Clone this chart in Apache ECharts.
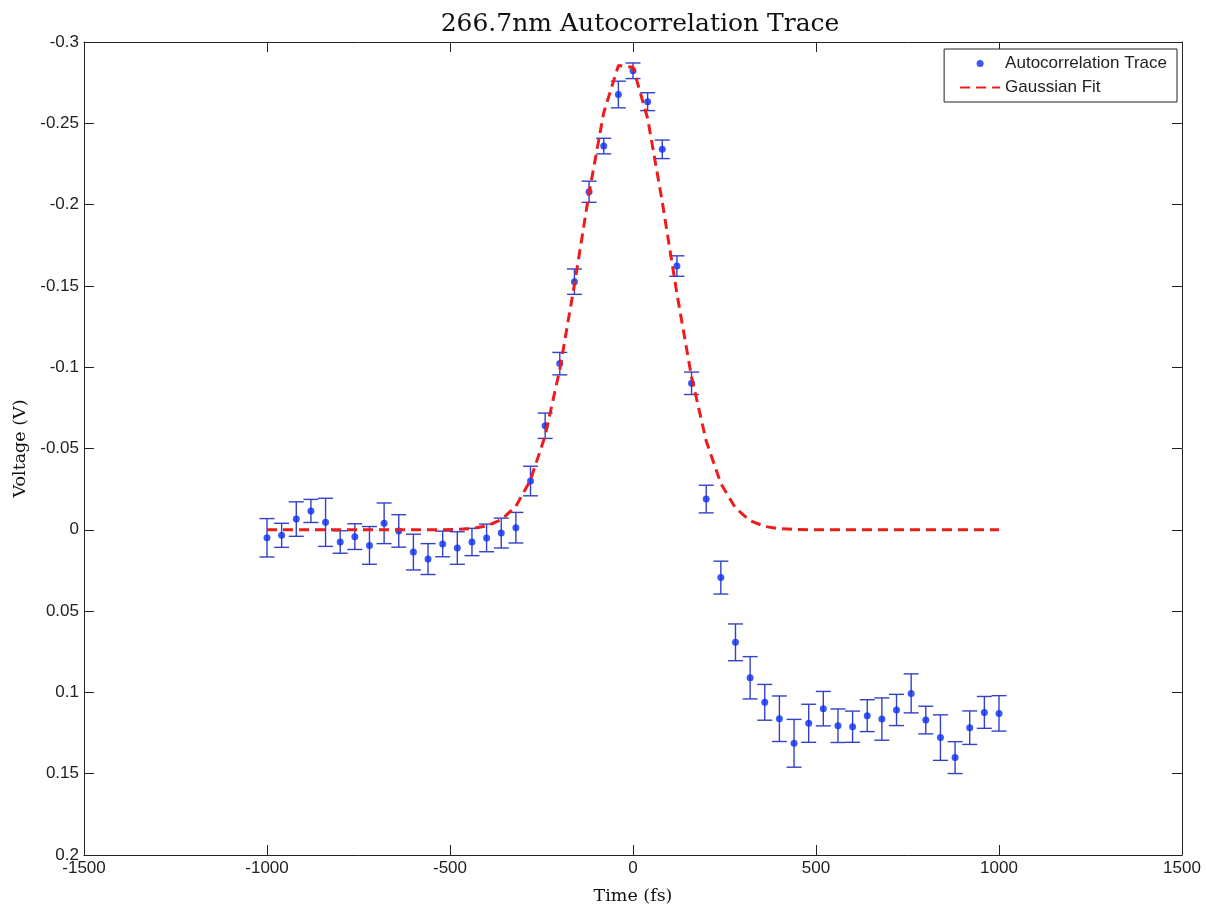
<!DOCTYPE html>
<html>
<head>
<meta charset="utf-8">
<script src="https://cdn.jsdelivr.net/npm/echarts@6/dist/echarts.min.js"></script>
<style>
html,body{margin:0;padding:0;background:#fff;}
#chart{width:1206px;height:904px;}
</style>
</head>
<body>
<div id="chart"></div>
<script>
// ---- data ----
const timeFs = [-1000,-960,-920,-880,-840,-800,-760,-720,-680,-640,-600,-560,-520,-480,-440,-400,-360,-320,
  -280,-240,-200,-160,-120,-80,-40,0,40,80,120,160,200,
  240,280,320,360,400,440,480,520,560,600,640,680,720,760,800,840,880,920,960,1000];
const voltage = [0.0049,0.0034,-0.0066,-0.0116,-0.0046,0.0075,0.0042,0.0096,-0.0040,0.0007,0.0137,0.0180,0.0087,0.0112,0.0075,0.0050,0.0020,-0.0013,
  -0.0300,-0.0640,-0.1022,-0.1526,-0.2079,-0.2360,-0.2677,-0.2823,-0.2633,-0.2340,-0.1622,-0.0901,-0.0189,
  0.0294,0.0692,0.0910,0.1061,0.1162,0.1313,0.1190,0.1100,0.1205,0.1211,0.1143,0.1164,0.1108,0.1006,0.1170,0.1278,0.1401,0.1217,0.1123,0.1129];
const errorHalf = [0.0118,0.0074,0.0106,0.0071,0.0148,0.0069,0.0079,0.0116,0.0125,0.0100,0.0110,0.0095,0.0079,0.0100,0.0084,0.0085,0.0092,0.0094,
  0.0091,0.0078,0.0069,0.0078,0.0065,0.0048,0.0082,0.0048,0.0055,0.0057,0.0063,0.0069,0.0085,
  0.0101,0.0113,0.0130,0.0110,0.0140,0.0147,0.0117,0.0106,0.0103,0.0096,0.0098,0.0130,0.0096,0.0120,0.0085,0.0140,0.0098,0.0103,0.0098,0.0109];
const gaussianFit = [0,0,0,0,0,0,0,0,0,0,0,0,0,-0.0002,-0.0008,
  -0.0024,-0.0062,-0.0145,-0.0306,-0.0579,-0.0987,-0.1508,-0.2071,-0.2565,-0.2855,-0.2845,-0.2530,-0.2016,-0.1453,-0.0940,-0.0546,
  -0.0285,-0.0134,-0.0056,-0.0021,-0.0007,-0.0002,0,0,0,0,0,0,0,0,0,0,0,0,0,0];
const xTicks = [-1500,-1000,-500,0,500,1000,1500];
const yTicks = [-0.3,-0.25,-0.2,-0.15,-0.1,-0.05,0,0.05,0.1,0.15,0.2];

const titleText = '266.7nm Autocorrelation Trace';
const xName = 'Time (fs)';
const yName = 'Voltage (V)';
const traceName = 'Autocorrelation Trace';
const fitName = 'Gaussian Fit';

// ---- build series data ----
const traceData = timeFs.map((t, i) => [t, voltage[i]]);
const errData = timeFs.map((t, i) => [t, voltage[i], errorHalf[i]]);
const fitData = timeFs.map((t, i) => [t, gaussianFit[i]]);

const sans = 'Liberation Sans, Arial, sans-serif';
const tickFont = {fontFamily: sans, fontSize: 17, color: '#222'};
const serif = 'DejaVu Serif, Liberation Serif, serif';
const axisLineStyle = {color: '#222', width: 1};
const fmt = v => String(parseFloat(Number(v).toFixed(3)));

const chart = echarts.init(document.getElementById('chart'), null, {renderer: 'canvas'});
chart.setOption({
  animation: false,
  backgroundColor: '#fff',
  title: {
    text: titleText,
    left: 635, top: 7, textAlign: 'center',
    textStyle: {fontFamily: serif, fontSize: 25, fontWeight: 'normal', color: '#111'}
  },
  grid: {left: 84, right: 24, top: 42, bottom: 49, containLabel: false, outerBoundsMode: 'none'},
  legend: {
    data: [{name: traceName, icon: 'circle'}, {name: fitName, itemStyle: {opacity: 0}}],
    orient: 'vertical',
    right: 29, top: 49,
    itemWidth: 40, itemHeight: 7, itemGap: 7,
    padding: [6, 10, 6, 15],
    borderColor: '#222', borderWidth: 1, backgroundColor: '#fff',
    textStyle: {fontFamily: sans, fontSize: 17, color: '#222'}
  },
  xAxis: [{
    type: 'value', min: -1500, max: 1500, interval: 500, position: 'bottom',
    axisLine: {show: true, onZero: false, lineStyle: axisLineStyle},
    axisTick: {show: true, inside: true, length: 10, lineStyle: axisLineStyle},
    axisLabel: Object.assign({margin: 5, formatter: fmt}, tickFont),
    splitLine: {show: false},
    name: xName, nameLocation: 'middle', nameGap: 32,
    nameTextStyle: {fontFamily: serif, fontSize: 17.5, color: '#111'}
  }, {
    type: 'value', min: -1500, max: 1500, interval: 500, position: 'top',
    axisLine: {show: true, onZero: false, lineStyle: axisLineStyle},
    axisTick: {show: true, inside: true, length: 10, lineStyle: axisLineStyle},
    axisLabel: {show: false}, splitLine: {show: false}
  }],
  yAxis: [{
    type: 'value', min: -0.3, max: 0.2, interval: 0.05, inverse: true, position: 'left',
    axisLine: {show: true, onZero: false, lineStyle: axisLineStyle},
    axisTick: {show: true, inside: true, length: 10, lineStyle: axisLineStyle},
    axisLabel: Object.assign({margin: 5, formatter: fmt}, tickFont),
    splitLine: {show: false},
    name: yName, nameLocation: 'middle', nameGap: 52, nameRotate: 90,
    nameTextStyle: {fontFamily: serif, fontSize: 17.5, color: '#111'}
  }, {
    type: 'value', min: -0.3, max: 0.2, interval: 0.05, inverse: true, position: 'right',
    axisLine: {show: true, onZero: false, lineStyle: axisLineStyle},
    axisTick: {show: true, inside: true, length: 10, lineStyle: axisLineStyle},
    axisLabel: {show: false}, splitLine: {show: false}
  }],
  series: [{
    name: 'errorbars', type: 'custom', xAxisIndex: 0, yAxisIndex: 0,
    data: errData, z: 2,
    renderItem: function (params, api) {
      const x = api.value(0), y = api.value(1), e = api.value(2);
      const pTop = api.coord([x, y - e]);
      const pBot = api.coord([x, y + e]);
      const hw = 7.5;
      const st = {stroke: '#3341c8', lineWidth: 1.4};
      return {type: 'group', children: [
        {type: 'line', shape: {x1: pTop[0], y1: pTop[1], x2: pBot[0], y2: pBot[1]}, style: st},
        {type: 'line', shape: {x1: pTop[0] - hw, y1: pTop[1], x2: pTop[0] + hw, y2: pTop[1]}, style: st},
        {type: 'line', shape: {x1: pBot[0] - hw, y1: pBot[1], x2: pBot[0] + hw, y2: pBot[1]}, style: st}
      ]};
    }
  }, {
    name: traceName, type: 'scatter', data: traceData, z: 3,
    symbol: 'circle', symbolSize: 7,
    itemStyle: {color: '#0b2ff2'}
  }, {
    name: fitName, type: 'line', data: fitData, z: 4,
    symbol: 'none', showSymbol: false, smooth: false,
    lineStyle: {color: '#ee1c1c', width: 3, type: [10, 6]},
    itemStyle: {color: '#ee1c1c'}
  }]
});
</script>
</body>
</html>
